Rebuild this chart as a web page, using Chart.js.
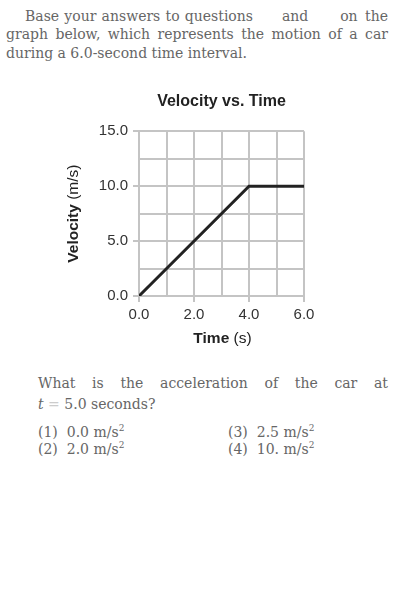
<!DOCTYPE html>
<html lang="en">
<head>
    <meta charset="UTF-8">
    <title>Velocity vs. Time</title>
    <style>
        body { margin: 0; width: 401px; height: 609px; background: #fff; position: relative; overflow: hidden; }
        .txt { position: absolute; font-family: 'DejaVu Serif', serif; font-size: 14px; color: #666; line-height: 18px; white-space: nowrap; }
        .just { text-align: justify; text-align-last: justify; white-space: normal; }
        #wrap { position: absolute; left: 0; top: 85px; width: 401px; height: 270px; }
        sup { font-size: 9px; line-height: 0; }
    </style>
</head>
<body>
    <div class="txt just" style="left:25px; top:7px; width:228px;">Base your answers to questions</div>
    <div class="txt" style="left:282px; top:7px;">and</div>
    <div class="txt" style="left:318px; top:7px; width:70px; text-align:right; word-spacing:3px;">on the</div>
    <div class="txt just" style="left:6px; top:25px; width:382px;">graph below, which represents the motion of a car</div>
    <div class="txt" style="left:6px; top:44px;">during a 6.0-second time interval.</div>

    <div id="wrap"><canvas id="myChart"></canvas></div>

    <div class="txt just" style="left:38px; top:374px; width:350px;">What is the acceleration of the car at</div>
    <div class="txt" style="left:38px; top:395px;"><i>t</i> <span style="color:#ccc">=</span> 5.0 seconds?</div>
    <div class="txt" style="left:38px; top:423px;">(1)&nbsp; 0.0 m/s<sup>2</sup></div>
    <div class="txt" style="left:228px; top:423px;">(3)&nbsp; 2.5 m/s<sup>2</sup></div>
    <div class="txt" style="left:38px; top:440px;">(2)&nbsp; 2.0 m/s<sup>2</sup></div>
    <div class="txt" style="left:228px; top:440px;">(4)&nbsp; 10. m/s<sup>2</sup></div>

    <script src="https://cdn.jsdelivr.net/npm/chart.js"></script>
    <script>
    // data
    var times = [0, 4, 6];
    var velocities = [0, 10, 10];
    var xTickLabels = { 0: '0.0', 2: '2.0', 4: '4.0', 6: '6.0' };
    var yTickLabels = { 0: '0.0', 5: '5.0', 10: '10.0', 15: '15.0' };

    var gridGray = '#c4c4c4';
    var sans = "'Liberation Sans', Arial, sans-serif";

    // axis titles: bold word + regular unit, like the printed graph
    var axisTitles = {
        id: 'axisTitles',
        afterDraw: (chart) => {
            const c = chart.ctx;
            const area = chart.chartArea;
            const draw = (parts, x, y, rot) => {
                c.save();
                c.translate(x, y);
                c.rotate(rot);
                c.fillStyle = '#222';
                c.textBaseline = 'middle';
                let total = 0;
                parts.forEach(p => { c.font = p[1] + ' 15.5px ' + sans; total += c.measureText(p[0]).width; });
                let cx = -total / 2;
                parts.forEach(p => {
                    c.font = p[1] + ' 15.5px ' + sans;
                    c.fillText(p[0], cx, 0);
                    cx += c.measureText(p[0]).width;
                });
                c.restore();
            };
            draw([['Time', 'bold'], [' (s)', 'normal']], (area.left + area.right) / 2 + 1, 254, 0);
            draw([['Velocity', 'bold'], [' (m/s)', 'normal']], 74, (area.top + area.bottom) / 2, -Math.PI / 2);
        }
    };

    var ctx = document.getElementById('myChart');
    var myChart = new Chart(ctx, {
        type: 'line',
        data: {
            datasets: [{
                data: times.map((t, i) => ({ x: t, y: velocities[i] })),
                borderColor: '#222',
                borderWidth: 3,
                pointRadius: 0,
                tension: 0
            }]
        },
        options: {
            responsive: true,
            maintainAspectRatio: false,
            animation: false,
            layout: { padding: { left: 0, right: 97, top: 0, bottom: 0 } },
            plugins: {
                legend: { display: false },
                tooltip: { enabled: false },
                title: {
                    display: true,
                    fullSize: false,
                    text: 'Velocity vs. Time',
                    color: '#222',
                    font: { family: sans, size: 16, weight: 'bold' },
                    padding: { top: 7, bottom: 20 }
                }
            },
            scales: {
                x: {
                    type: 'linear',
                    min: 0, max: 6,
                    afterFit: (s) => { s.height = 59; },
                    ticks: {
                        stepSize: 1,
                        padding: 4,
                        maxRotation: 0,
                        color: '#333',
                        font: { family: sans, size: 15 },
                        callback: (v) => xTickLabels[v] || ''
                    },
                    grid: {
                        color: gridGray,
                        lineWidth: 2,
                        tickLength: 6,
                        tickColor: (c) => (c.tick && xTickLabels[c.tick.value]) ? gridGray : 'transparent'
                    },
                    border: { color: gridGray, width: 2 }
                },
                y: {
                    min: 0, max: 15,
                    afterFit: (s) => { s.width = 139; },
                    ticks: {
                        stepSize: 2.5,
                        padding: 5,
                        color: '#333',
                        font: { family: sans, size: 15 },
                        callback: (v) => yTickLabels[v] || ''
                    },
                    grid: {
                        color: gridGray,
                        lineWidth: 2,
                        tickLength: 6,
                        tickColor: (c) => (c.tick && yTickLabels[c.tick.value]) ? gridGray : 'transparent'
                    },
                    border: { color: gridGray, width: 2 }
                }
            }
        },
        plugins: [axisTitles]
    });
    </script>
</body>
</html>
